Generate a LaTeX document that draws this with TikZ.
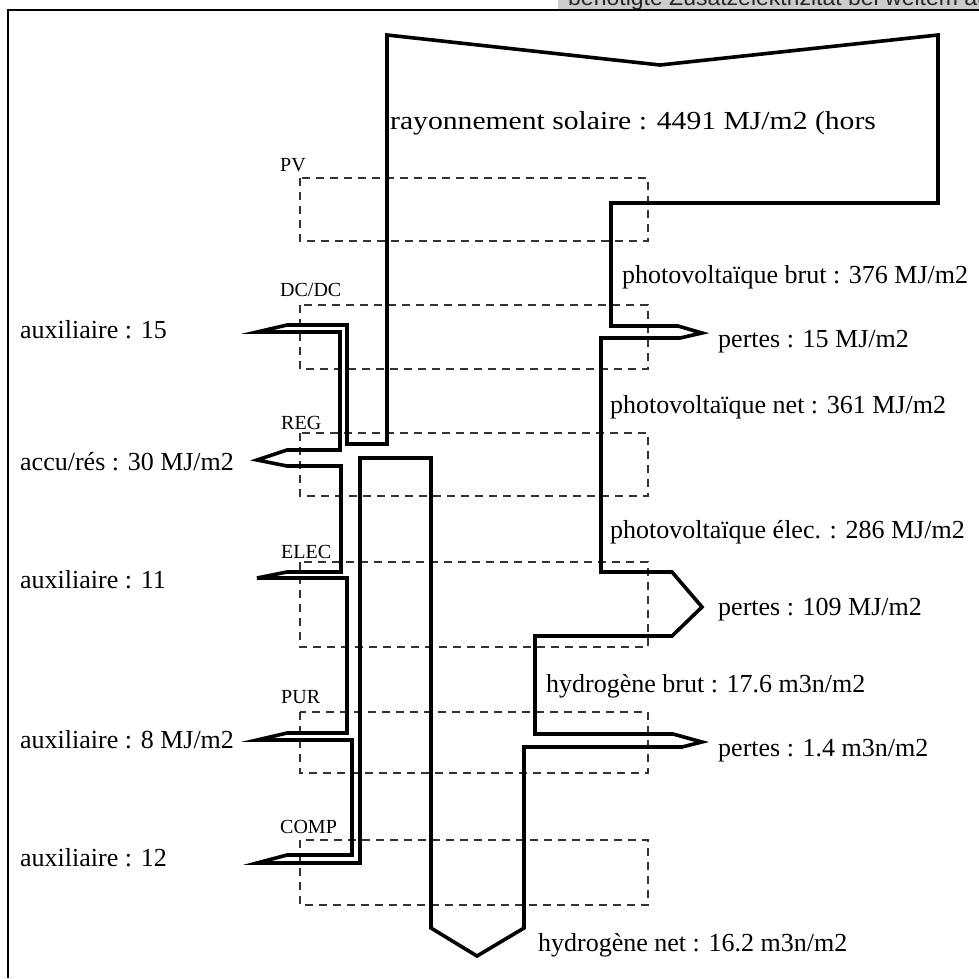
\documentclass[tikz,border=0pt]{standalone}
\usepackage{fontspec}
\usepackage{graphicx}
\setmainfont{Liberation Serif}
\newfontfamily\bannerfont{Liberation Sans}
\begin{document}
\begin{tikzpicture}[x=1pt,y=-1pt,
  lbl/.style={anchor=base west,inner sep=0pt,font=\fontsize{26}{30}\selectfont},
  slbl/.style={anchor=base west,inner sep=0pt,font=\fontsize{20}{24}\selectfont},
  stagebox/.style={draw=black!80,line width=1.5pt,dash pattern=on 8pt off 6pt},
  flow/.style={draw=black,line width=3.6pt,line join=miter}]
\useasboundingbox (0,0) rectangle (979,978);
\clip (0,0) rectangle (979,978);
% banner
\fill[black!20] (558,-2) rectangle (979,10);
\node[anchor=base west,inner sep=0pt,font=\bannerfont\fontsize{23}{26}\selectfont,text=black!85] (banner) at (568,5) {benötigte Zusatzelektrizität bei weitem ausreichend};
% frame
\draw[line width=2.4pt] (7,10) -- (979,10);
\draw[line width=2.4pt] (8,10) -- (8,978);
% stage boxes
\draw[stagebox] (300,178) rectangle (648,241);
\draw[stagebox] (300,305) rectangle (648,369);
\draw[stagebox] (300,433) rectangle (648,496);
\draw[stagebox] (300,562) rectangle (648,647);
\draw[stagebox] (300,712) rectangle (648,773);
\draw[stagebox] (300,840) rectangle (648,905);
% stage labels
\node[slbl] (pv) at (280,171) {PV};
\node[slbl] (dcdc) at (280,296) {DC/DC};
\node[slbl] (reg) at (281,429) {REG};
\node[slbl] (elec) at (281,558) {ELEC};
\node[slbl] (pur) at (281,703) {PUR};
\node[slbl] (comp) at (280,833) {COMP};
% flow outline
\draw[flow] (387,35) -- (660,65) -- (938,35) -- (938,203) -- (611,203) -- (611,326)
  -- (678,326) -- (702,333) -- (680,338) -- (601,338) -- (601,572) -- (672,572)
  -- (702,607) -- (672,636) -- (535,636) -- (535,734) -- (673,734) -- (702,742)
  -- (682,747) -- (524,747) -- (524,928) -- (477,956) -- (431,928) -- (431,458)
  -- (360,458) -- (360,863) -- (257,863) -- (287,855) -- (352,855) -- (352,740)
  -- (257,740) -- (287,733) -- (347,733) -- (347,578) -- (257,578) -- (287,572)
  -- (341,572) -- (341,466) -- (287,466) -- (257,460) -- (287,450) -- (340,450)
  -- (340,332) -- (257,332) -- (287,325) -- (347,325) -- (347,444) -- (387,444)
  -- cycle;
% flow labels
\node[lbl] (solar) at (390,129) {\scalebox{1.14}[1]{rayonnement solaire : 4491 MJ/m2 (hors}};
\node[lbl] (pvbrut) at (622,283) {photovoltaïque brut : 376 MJ/m2};
\node[lbl] (aux15) at (20,338) {auxiliaire : 15};
\node[lbl] (p15) at (718,347) {pertes : 15 MJ/m2};
\node[lbl] (pvnet) at (610,413) {photovoltaïque net : 361 MJ/m2};
\node[lbl] (accu) at (20,470) {accu/rés : 30 MJ/m2};
\node[lbl] (pvelec) at (610,538) {photovoltaïque élec. : 286 MJ/m2};
\node[lbl] (aux11) at (20,588) {auxiliaire : 11};
\node[lbl] (p109) at (718,615) {pertes : 109 MJ/m2};
\node[lbl] (h2brut) at (546,692) {hydrogène brut : 17.6 m3n/m2};
\node[lbl] (aux8) at (20,748) {auxiliaire : 8 MJ/m2};
\node[lbl] (p14) at (718,756) {pertes : 1.4 m3n/m2};
\node[lbl] (aux12) at (20,866) {auxiliaire : 12};
\node[lbl] (h2net) at (538,951) {hydrogène net : 16.2 m3n/m2};
\end{tikzpicture}
\end{document}
